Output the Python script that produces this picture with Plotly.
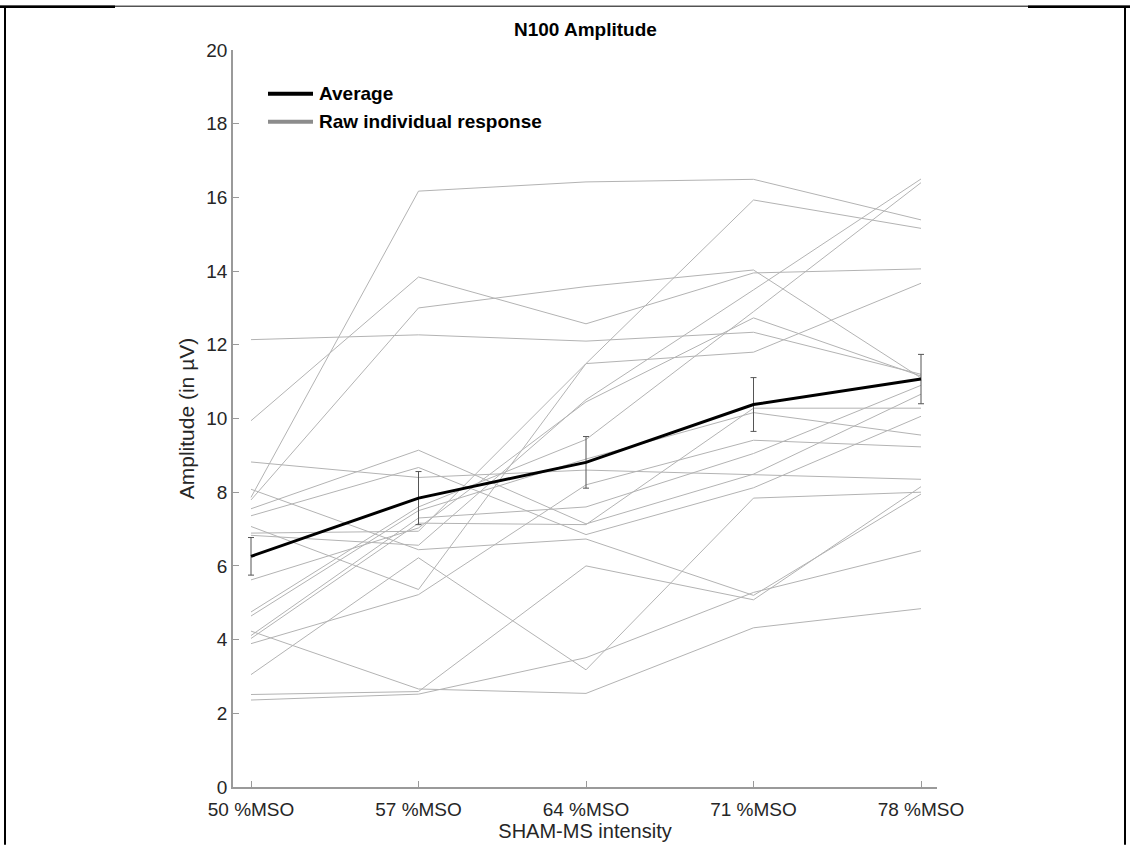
import plotly.graph_objects as go

# Stimulation intensities (x categories)
intensities = ["50 %MSO", "57 %MSO", "64 %MSO", "71 %MSO", "78 %MSO"]
x_pos = [1, 2, 3, 4, 5]

# Individual N100 amplitudes (µV), one list per participant
subj_01 = [12.14, 12.27, 12.10, 12.34, 11.20]
subj_02 = [9.94, 13.84, 12.57, 13.95, 14.06]
subj_03 = [7.86, 16.17, 16.42, 16.49, 15.39]
subj_04 = [7.79, 13.00, 13.58, 14.03, 11.10]
subj_05 = [8.82, 8.40, 8.60, 8.47, 8.35]
subj_06 = [7.55, 9.14, 7.14, 8.49, 10.66]
subj_07 = [7.36, 8.67, 6.85, 8.12, 10.06]
subj_08 = [8.08, 6.44, 6.73, 5.20, 7.95]
subj_09 = [7.07, 5.36, 11.49, 15.93, 15.16]
subj_10 = [3.89, 5.22, 8.20, 9.41, 9.23]
subj_11 = [3.05, 6.22, 3.18, 7.84, 8.00]
subj_12 = [4.23, 2.66, 2.54, 4.32, 4.84]
subj_13 = [2.51, 2.59, 6.00, 5.08, 8.15]
subj_14 = [2.36, 2.52, 3.51, 5.28, 6.41]
subj_15 = [6.89, 6.94, 11.49, 11.80, 13.67]
subj_16 = [6.83, 6.56, 10.51, 13.49, 16.50]
subj_17 = [5.62, 7.03, 10.45, 12.73, 11.15]
subj_18 = [4.75, 7.60, 9.43, 12.90, 16.40]
subj_19 = [4.64, 7.50, 8.90, 10.16, 9.55]
subj_20 = [4.11, 7.30, 7.60, 9.05, 10.90]
subj_21 = [4.03, 7.16, 7.12, 10.28, 10.28]

subjects = [subj_01, subj_02, subj_03, subj_04, subj_05, subj_06, subj_07,
            subj_08, subj_09, subj_10, subj_11, subj_12, subj_13, subj_14,
            subj_15, subj_16, subj_17, subj_18, subj_19, subj_20, subj_21]

# Group average and standard error of the mean
average = [6.26, 7.84, 8.81, 10.38, 11.07]
sem = [0.51, 0.72, 0.70, 0.73, 0.67]

y_ticks = [0, 2, 4, 6, 8, 10, 12, 14, 16, 18, 20]

W, H = 1130, 848
L, R, T, B = 233, 937, 50, 790   # plot area in pixels
FONT = "Liberation Sans, Arial, sans-serif"


def px(xp):
    return (xp - L) / (R - L)


def py(yp):
    return (B - yp) / (B - T)


fig = go.Figure()

for vals in subjects:
    fig.add_trace(go.Scatter(
        x=x_pos, y=vals, mode="lines",
        line=dict(color="#b3b3b3", width=1),
        hoverinfo="skip", showlegend=False,
    ))

fig.add_trace(go.Scatter(
    x=x_pos, y=average, mode="lines",
    line=dict(color="#000000", width=3),
    error_y=dict(type="data", array=sem, visible=True,
                 color="#555555", thickness=1, width=3),
    showlegend=False,
))

shapes = []
# Manual legend swatches
shapes.append(dict(type="line", xref="paper", yref="paper",
                   x0=px(268), x1=px(313), y0=py(94), y1=py(94),
                   line=dict(color="#000000", width=4)))
shapes.append(dict(type="line", xref="paper", yref="paper",
                   x0=px(268), x1=px(313), y0=py(122), y1=py(122),
                   line=dict(color="#8c8c8c", width=4)))

# Page frame lines
shapes.append(dict(type="line", xref="paper", yref="paper",
                   x0=px(0), x1=px(1130), y0=py(6), y1=py(6),
                   line=dict(color="#000000", width=1)))
shapes.append(dict(type="line", xref="paper", yref="paper",
                   x0=px(0), x1=px(115), y0=py(6.5), y1=py(6.5),
                   line=dict(color="#000000", width=2.5)))
shapes.append(dict(type="line", xref="paper", yref="paper",
                   x0=px(1028), x1=px(1130), y0=py(6.5), y1=py(6.5),
                   line=dict(color="#000000", width=2.5)))
shapes.append(dict(type="line", xref="paper", yref="paper",
                   x0=px(5), x1=px(5), y0=py(6), y1=py(848),
                   line=dict(color="#000000", width=2)))
shapes.append(dict(type="line", xref="paper", yref="paper",
                   x0=px(1125), x1=px(1125), y0=py(6), y1=py(848),
                   line=dict(color="#000000", width=2)))

annotations = [
    dict(text="<b>Average</b>", xref="paper", yref="paper",
         x=px(317), y=py(94), xanchor="left", yanchor="middle",
         showarrow=False, font=dict(family=FONT, size=19, color="#000000")),
    dict(text="<b>Raw individual response</b>", xref="paper", yref="paper",
         x=px(317), y=py(122), xanchor="left", yanchor="middle",
         showarrow=False, font=dict(family=FONT, size=19, color="#000000")),
    dict(text="<b>N100 Amplitude</b>", xref="paper", yref="paper",
         x=0.5, y=py(29), xanchor="center", yanchor="middle",
         showarrow=False, font=dict(family=FONT, size=19, color="#000000")),
]

fig.update_layout(
    width=W, height=H,
    margin=dict(l=L, r=W - R, t=T, b=H - B, pad=0),
    paper_bgcolor="white", plot_bgcolor="white",
    shapes=shapes, annotations=annotations,
    font=dict(family=FONT, color="#262626"),
)

fig.update_xaxes(
    range=[0.8925, 5.0955], tickvals=x_pos, ticktext=intensities,
    showgrid=False, zeroline=False, showline=True, linecolor="#9a9a9a",
    linewidth=1.5, ticks="inside", ticklen=6, tickcolor="#9a9a9a",
    ticklabelstandoff=4,
    tickfont=dict(family=FONT, size=19, color="#262626"),
    title=dict(text="SHAM-MS intensity", standoff=2,
               font=dict(family=FONT, size=20, color="#262626")),
)
fig.update_yaxes(
    range=[0, 20], tickvals=y_ticks,
    showgrid=False, zeroline=False, showline=True, linecolor="#9a9a9a",
    linewidth=1.5, ticks="inside", ticklen=6, tickcolor="#9a9a9a",
    tickfont=dict(family=FONT, size=19, color="#262626"),
    title=dict(text="Amplitude (in µV)", standoff=6,
               font=dict(family=FONT, size=21, color="#262626")),
)

fig.write_html("out.html")
